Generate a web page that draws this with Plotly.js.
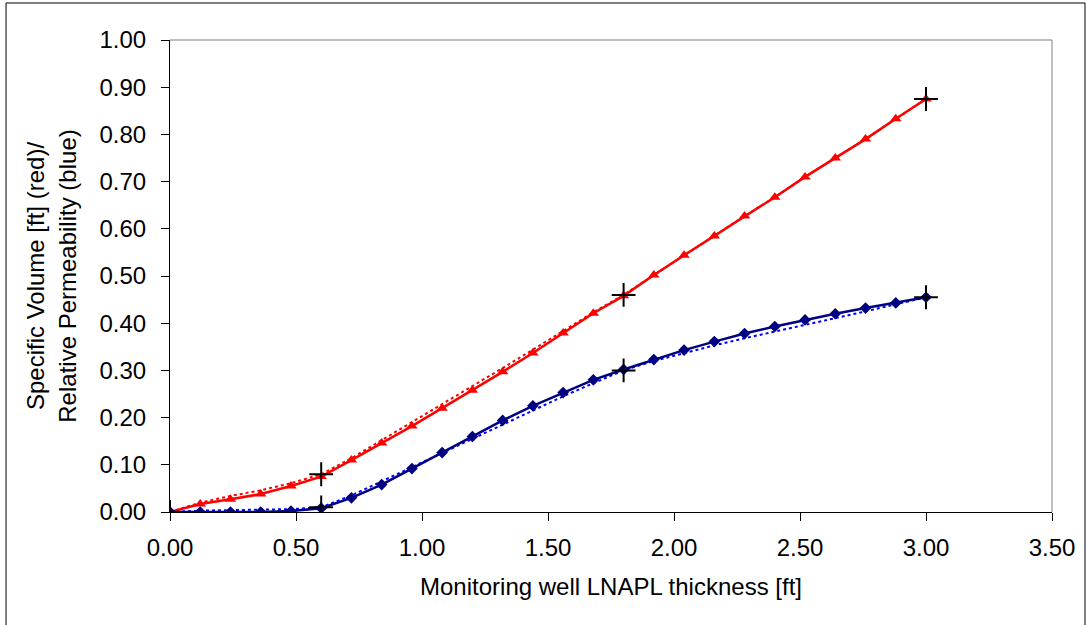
<!DOCTYPE html>
<html>
<head>
<meta charset="utf-8">
<script src="https://cdn.plot.ly/plotly-3.0.1.min.js"></script>
<style>html,body{margin:0;padding:0;background:#fff;}#chart{width:1086px;height:625px;}</style>
</head>
<body>
<div id="chart"></div>
<script>
// Monitoring well LNAPL thickness [ft]
var thickness = [0.00,0.12,0.24,0.36,0.48,0.60,0.72,0.84,0.96,1.08,1.20,1.32,1.44,1.56,1.68,1.80,1.92,2.04,2.16,2.28,2.40,2.52,2.64,2.76,2.88,3.00];
// Specific volume (red, solid with triangles)
var specVolume = [0.000,0.017,0.027,0.038,0.055,0.075,0.110,0.146,0.182,0.220,0.258,0.297,0.337,0.379,0.421,0.458,0.502,0.544,0.585,0.627,0.667,0.710,0.750,0.790,0.833,0.875];
// Specific volume fit (red, dotted)
var specVolumeFit = [0.000,0.020,0.034,0.046,0.061,0.080,0.114,0.152,0.190,0.228,0.266,0.305,0.344,0.384,0.423,0.460,0.502,0.544,0.585,0.627,0.667,0.710,0.750,0.790,0.833,0.875];
// Relative permeability (blue, solid with diamonds)
var relPerm = [0.000,0.000,0.000,0.000,0.002,0.008,0.030,0.058,0.092,0.126,0.160,0.194,0.225,0.253,0.280,0.302,0.323,0.343,0.361,0.378,0.393,0.407,0.420,0.432,0.443,0.455];
// Relative permeability fit (blue, dotted)
var relPermFit = [0.000,0.003,0.004,0.005,0.006,0.010,0.035,0.065,0.095,0.125,0.156,0.186,0.216,0.245,0.273,0.300,0.320,0.337,0.353,0.368,0.382,0.397,0.411,0.425,0.440,0.455];
// Calibration points (+ markers)
var calibX = [0.00,0.60,1.80,3.00];
var calibVolume = [0.000,0.080,0.460,0.875];
var calibPerm = [0.000,0.010,0.300,0.455];

var xTicks = [0,0.5,1,1.5,2,2.5,3,3.5];
var xTickText = ['0.00','0.50','1.00','1.50','2.00','2.50','3.00','3.50'];
var yTicks = [0,0.1,0.2,0.3,0.4,0.5,0.6,0.7,0.8,0.9,1.0];
var yTickText = ['0.00','0.10','0.20','0.30','0.40','0.50','0.60','0.70','0.80','0.90','1.00'];

var traces = [
  {x: thickness, y: specVolumeFit, mode: 'lines', line: {color: '#FF0000', width: 2, dash: 'dot'}, hoverinfo: 'skip'},
  {x: thickness, y: relPermFit, mode: 'lines', line: {color: '#0000FF', width: 2, dash: 'dot'}, hoverinfo: 'skip'},
  {x: thickness, y: specVolume, mode: 'lines+markers', line: {color: '#FF0000', width: 2.5},
   marker: {symbol: 'triangle-up', size: 10, color: '#FF0000'}},
  {x: thickness, y: relPerm, mode: 'lines+markers', line: {color: '#000080', width: 2.5},
   marker: {symbol: 'diamond', size: 9, color: '#000080'}},
  {x: calibX, y: calibVolume, mode: 'markers', marker: {symbol: 'cross-thin', size: 17, line: {color: '#000000', width: 2}}},
  {x: calibX, y: calibPerm, mode: 'markers', marker: {symbol: 'cross-thin', size: 17, line: {color: '#000000', width: 2}}}
];

var font = {family: 'Liberation Sans, Arial, sans-serif', size: 24, color: '#000000'};

var layout = {
  width: 1086, height: 625,
  margin: {l: 170, r: 34, t: 40, b: 113},
  paper_bgcolor: '#FFFFFF', plot_bgcolor: '#FFFFFF',
  showlegend: false,
  font: font,
  xaxis: {
    range: [0, 3.5], tickvals: xTicks, ticktext: xTickText,
    showgrid: false, zeroline: false, showline: true, linecolor: '#000000', linewidth: 1,
    ticks: 'outside', ticklen: 8, tickcolor: '#000000',
    tickfont: font, ticklabelstandoff: 6,
    title: {text: 'Monitoring well LNAPL thickness [ft]', font: font, standoff: 18}
  },
  yaxis: {
    range: [0, 1.0], tickvals: yTicks, ticktext: yTickText,
    showgrid: false, zeroline: false, showline: true, linecolor: '#000000', linewidth: 1,
    ticks: 'outside', ticklen: 8, tickcolor: '#000000',
    tickfont: font, ticklabelstandoff: 10,
    title: {text: 'Specific Volume [ft] (red)/<br>Relative Permeability (blue)', font: font, standoff: 16}
  },
  shapes: [
    {type: 'line', xref: 'paper', yref: 'paper', x0: 0, x1: 1, y0: 1, y1: 1, line: {color: '#808080', width: 1}},
    {type: 'line', xref: 'paper', yref: 'paper', x0: 1, x1: 1, y0: 0, y1: 1, line: {color: '#808080', width: 1}},
    {type: 'rect', xref: 'paper', yref: 'paper', x0: -0.1859, x1: 1.0374, y0: -0.25, y1: 1.0784, line: {color: '#000000', width: 1}, layer: 'below'}
  ]
};

Plotly.newPlot('chart', traces, layout, {displayModeBar: false, staticPlot: true});
</script>
</body>
</html>
